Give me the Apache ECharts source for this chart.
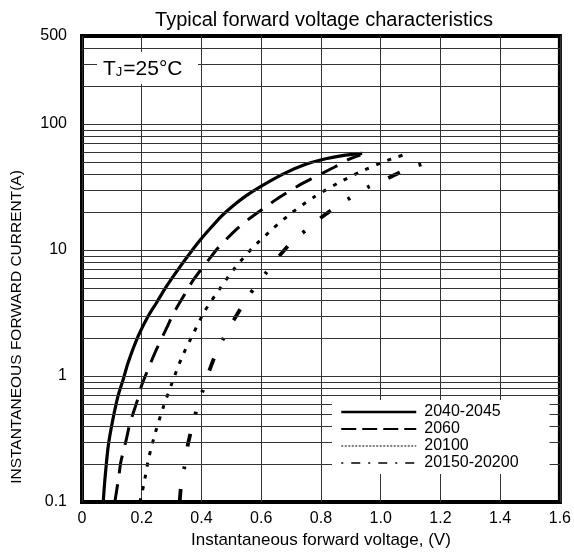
<!DOCTYPE html>
<html><head><meta charset="utf-8">
<script src="https://cdn.jsdelivr.net/npm/echarts@6/dist/echarts.min.js"></script>
<style>html,body{margin:0;padding:0;background:#fff}#c{width:574px;height:554px}</style>
</head><body><div id="c"></div>
<script>
// ---- data ----
const seriesNames = ['2040-2045', '2060', '20100', '20150-20200'];

const v2040 = [0.071, 0.077, 0.088, 0.104, 0.121, 0.138, 0.154, 0.188, 0.221, 0.249, 0.277, 0.316, 0.352, 0.393, 0.432, 0.468, 0.504, 0.549, 0.599, 0.671, 0.749, 0.816, 0.882, 0.938];
const i2040 = [0.1, 0.154, 0.28, 0.46, 0.70, 0.94, 1.27, 2.07, 2.97, 3.8, 4.9, 6.7, 8.8, 11.8, 15.1, 18.7, 22.3, 26.9, 32.0, 39.9, 47.9, 53.0, 56.7, 58.6];

const v2060 = [0.11, 0.123, 0.13, 0.149, 0.16, 0.186, 0.199, 0.23, 0.249, 0.286, 0.307, 0.349, 0.374, 0.427, 0.457, 0.516, 0.554, 0.621, 0.66, 0.732, 0.777, 0.849, 0.893, 0.932];
const i2060 = [0.1, 0.158, 0.208, 0.318, 0.417, 0.647, 0.834, 1.27, 1.62, 2.48, 3.16, 4.67, 5.85, 8.55, 10.5, 14.5, 17.3, 22.5, 26.1, 33.2, 37.8, 46.0, 52.5, 56.7];

const v20100 = [0.194, 0.207, 0.223, 0.246, 0.271, 0.301, 0.334, 0.371, 0.41, 0.46, 0.513, 0.571, 0.638, 0.704, 0.777, 0.854, 0.932, 1.01, 1.054, 1.099];
const i20100 = [0.1, 0.138, 0.221, 0.358, 0.554, 0.876, 1.40, 2.13, 3.25, 4.88, 7.26, 10.4, 14.7, 19.9, 26.4, 33.7, 41.8, 50.2, 54.7, 59.1];

const v20150 = [0.327, 0.334, 0.343, 0.354, 0.371, 0.382, 0.404, 0.427, 0.454, 0.474, 0.51, 0.56, 0.616, 0.662, 0.71, 0.749, 0.802, 0.86, 0.899, 0.96, 1.029, 1.09, 1.14];
const i20150 = [0.1, 0.154, 0.19, 0.281, 0.417, 0.52, 0.762, 1.115, 1.62, 2.0, 2.83, 4.4, 6.59, 9.07, 12.1, 14.3, 18.2, 22.7, 26.1, 31.8, 37.6, 44, 48.4];

const xTickLabels = ['0', '0.2', '0.4', '0.6', '0.8', '1.0', '1.2', '1.4', '1.6'];
const yTickValues = [0.1, 1, 10, 100, 500];
const gridCurrents = [0.2, 0.3, 0.4, 0.5, 0.6, 0.7, 0.8, 0.9, 1, 2, 3, 4, 5, 6, 7, 8, 9, 10, 20, 30, 40, 50, 60, 70, 80, 90, 100, 200, 300, 400];

// ---- chart ----
const FONT = 'Arial, "Liberation Sans", sans-serif';
const pairs = (vs, is) => vs.map((v, k) => [v, is[k]]);

const curveStyles = [
  { width: 3.2, type: 'solid' },
  { width: 3, type: [18, 11] },
  { width: 3, type: [4, 8] },
  { width: 3.8, type: [13, 20, 3, 20, 13, 20, 3, 20, 3, 20] }
];
const legendStyles = [
  { width: 2.5, type: 'solid', color: '#000', opacity: 1 },
  { width: 2, type: [15, 6], color: '#000', opacity: 1 },
  { width: 1.2, type: [2, 1.5], color: '#000', opacity: 1 },
  { width: 1.6, type: [2, 8, 9, 8], color: '#000', opacity: 1 }
];
const curveData = [pairs(v2040, i2040), pairs(v2060, i2060), pairs(v20100, i20100), pairs(v20150, i20150)];

const chart = echarts.init(document.getElementById('c'), null, { renderer: 'canvas' });

const series = [{
  type: 'line', name: 'grid', data: [], z: 1, silent: true,
  markLine: {
    silent: true, symbol: ['none', 'none'], animation: false,
    label: { show: false },
    lineStyle: { color: '#333', width: 1, type: 'solid' },
    emphasis: { disabled: true },
    data: gridCurrents.map(v => ({ yAxis: v }))
  }
}];
seriesNames.forEach((n, k) => {
  series.push({
    type: 'line', name: n, data: curveData[k], smooth: 0.25, showSymbol: false, symbol: 'none',
    z: 3, lineStyle: Object.assign({ color: '#000' }, curveStyles[k]), itemStyle: { color: '#000' }
  });
});

chart.setOption({
  animation: false,
  backgroundColor: '#fff',
  title: {
    text: 'Typical forward voltage characteristics',
    left: 319, top: 5, textAlign: 'center',
    textStyle: { fontFamily: FONT, fontSize: 20, fontWeight: 'normal', color: '#000' }
  },
  grid: { left: 82, right: 12, top: 36, bottom: 49, show: true, borderColor: '#000', borderWidth: 4, backgroundColor: 'transparent' },
  legend: {
    data: seriesNames.map((n, k) => ({ name: n, lineStyle: legendStyles[k], itemStyle: { opacity: 0 } })),
    orient: 'vertical', left: 332, top: 400, itemWidth: 75, itemHeight: 14, itemGap: 1,
    itemStyle: { opacity: 0 },
    padding: [4, 31, 3, 8], backgroundColor: '#fff', z: 10,
    textStyle: { fontFamily: FONT, fontSize: 16, color: '#000', padding: [0, 0, 0, 3] },
    selectedMode: false
  },
  xAxis: {
    type: 'value', min: 0, max: 1.6, interval: 0.2,
    name: 'Instantaneous forward voltage, (V)', nameLocation: 'middle', nameGap: 30,
    nameTextStyle: { fontFamily: FONT, fontSize: 17, color: '#000' },
    axisLine: { show: false }, axisTick: { show: false },
    axisLabel: { fontFamily: FONT, fontSize: 16, color: '#000', margin: 9, formatter: (v) => xTickLabels[Math.round(v / 0.2)] },
    splitLine: { show: true, lineStyle: { color: '#333', width: 1 } }
  },
  yAxis: {
    type: 'log', logBase: 10, min: 0.1, max: 500,
    axisLine: { show: false }, axisTick: { show: false },
    axisLabel: { fontFamily: FONT, fontSize: 16, color: '#000', margin: 15, customValues: yTickValues, formatter: (v) => String(+(+v).toPrecision(3)) },
    splitLine: { show: false }
  },
  graphic: [
    {
      type: 'text', z: 100, rotation: Math.PI / 2, x: 17, y: 327,
      style: { text: 'INSTANTANEOUS FORWARD CURRENT(A)', fontFamily: FONT, fontSize: 15.5, fill: '#000', align: 'center', verticalAlign: 'middle' }
    },
    {
      type: 'group', z: 100,
      children: [
        { type: 'rect', z: 100, shape: { x: 97, y: 52, width: 101, height: 32 }, style: { fill: '#fff' } },
        {
          type: 'text', z: 101, x: 103, y: 69,
          style: {
            text: '{a|T}{b|J}{a|=25°C}', verticalAlign: 'middle', fill: '#000',
            rich: {
              a: { fontFamily: FONT, fontSize: 21, fill: '#000' },
              b: { fontFamily: FONT, fontSize: 13, fill: '#000', verticalAlign: 'bottom', padding: [0, 1, 1, 0] }
            }
          }
        }
      ]
    }
  ],
  series: series
});
</script></body></html>
